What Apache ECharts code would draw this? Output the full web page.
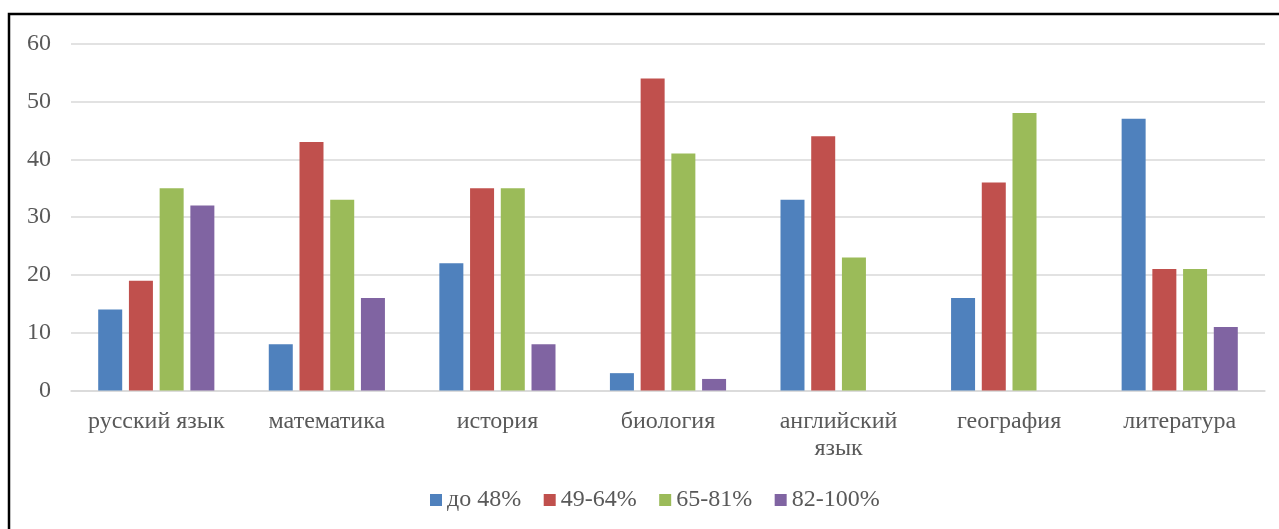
<!DOCTYPE html>
<html>
<head>
<meta charset="utf-8">
<script src="https://cdn.jsdelivr.net/npm/echarts@6/dist/echarts.min.js"></script>
<style>
html,body{margin:0;padding:0;background:#fff;}
#chart{width:1279px;height:529px;}
</style>
</head>
<body>
<div id="chart"></div>
<script>
const categories = ['русский язык', 'математика', 'история', 'биология', 'английский язык', 'география', 'литература'];
const seriesNames = ['до 48%', '49-64%', '65-81%', '82-100%'];
const s1 = [14, 8, 22, 3, 33, 16, 47];
const s2 = [19, 43, 35, 54, 44, 36, 21];
const s3 = [35, 33, 35, 41, 23, 48, 21];
const s4 = [32, 16, 8, 2, null, null, 11];
const colors = ['#4F81BD', '#C0504D', '#9BBB59', '#8064A2'];

const FONT = 'Liberation Serif';
const TXT = '#595959';
const chart = echarts.init(document.getElementById('chart'));
const allData = [s1, s2, s3, s4];
chart.setOption({
  animation: false,
  color: colors,
  textStyle: {fontFamily: FONT},
  grid: {left: 71, right: 14, top: 43.7, bottom: 138.5, containLabel: false},
  legend: {
    left: 425, top: 483,
    itemWidth: 12, itemHeight: 12, itemGap: 22.5,
    icon: 'rect',
    textStyle: {fontFamily: FONT, fontSize: 24, color: TXT},
    data: seriesNames
  },
  xAxis: {
    type: 'category',
    data: categories,
    axisTick: {show: false},
    axisLine: {lineStyle: {color: '#d9d9d9', width: 1.5}},
    axisLabel: {
      fontFamily: FONT, fontSize: 24, color: TXT, margin: 18,
      lineHeight: 27, interval: 0,
      formatter: v => v.length > 13 ? v.replace(' ', '\n') : v
    }
  },
  yAxis: {
    type: 'value', min: 0, max: 60, interval: 10,
    axisLine: {show: false}, axisTick: {show: false},
    splitLine: {lineStyle: {color: '#d9d9d9', width: 1.5}},
    axisLabel: {fontFamily: FONT, fontSize: 24, color: TXT, margin: 20}
  },
  series: seriesNames.map((n, i) => ({
    name: n, type: 'bar', data: allData[i],
    barWidth: 24, barGap: '28%'
  })),
  graphic: [{
    type: 'polyline',
    shape: {points: [[9, 529], [9, 14], [1279, 14]]},
    style: {stroke: '#000', lineWidth: 2.5, fill: null},
    silent: true
  }]
});
</script>
</body>
</html>
